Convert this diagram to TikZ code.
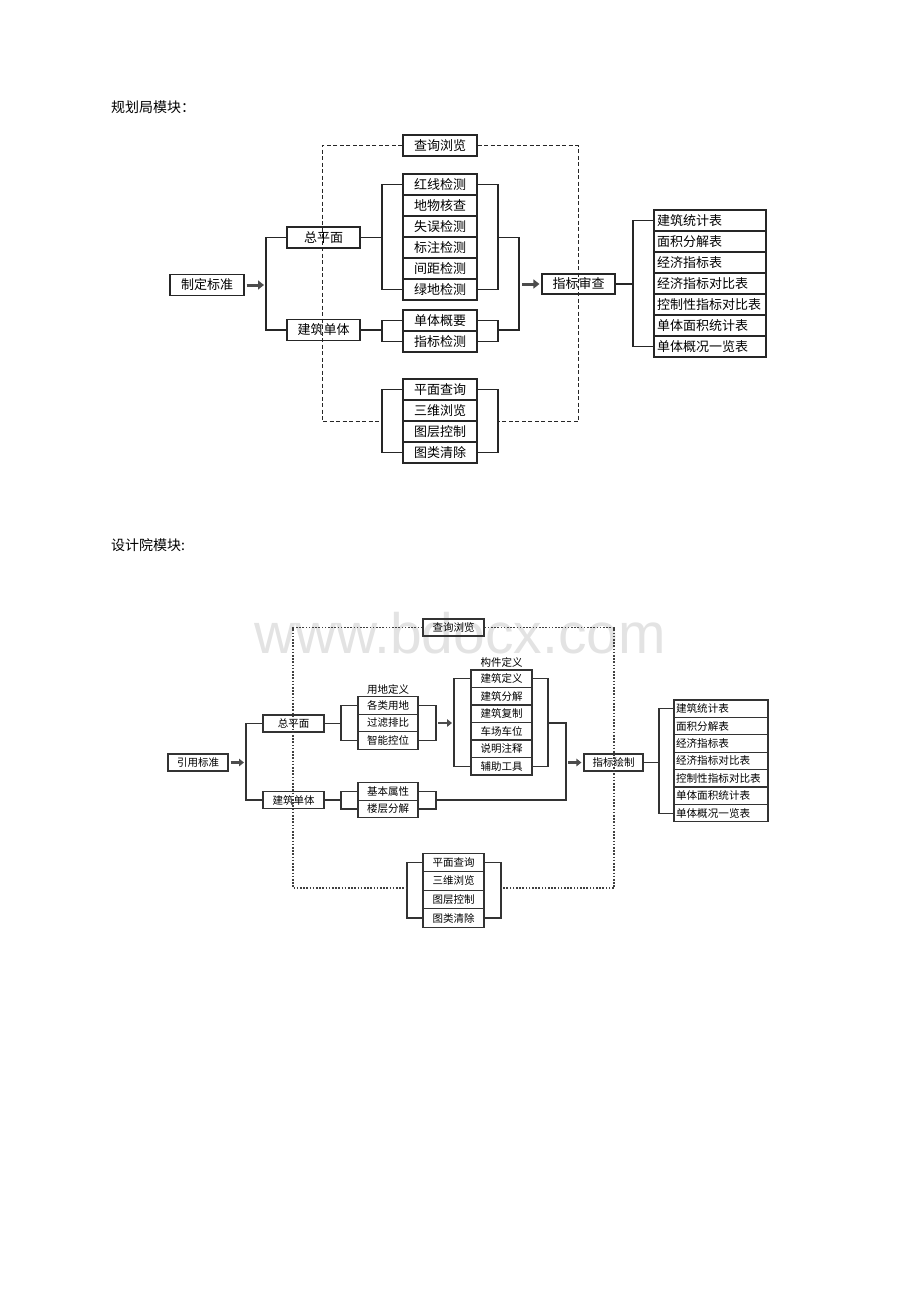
\documentclass[tikz,border=0pt]{standalone}
\usepackage{fontspec}
\setmainfont{Noto Sans CJK SC}
\newfontfamily\wmfont{Liberation Sans}
\usetikzlibrary{arrows.meta,calc}
\begin{document}
\begin{tikzpicture}[x=1pt,y=-1pt,
  tb/.style={draw=black!85,line width=1.1pt,inner sep=0pt,minimum height=21pt,font=\fontsize{13}{13}\selectfont},
  tl/.style={tb,text width=106pt,align=left,inner xsep=3pt},
  sb/.style={draw=black!80,line width=1.2pt,inner sep=0pt,minimum height=17.5pt,font=\fontsize{10.5}{10.5}\selectfont},
  sl/.style={sb,minimum height=17.4pt,text width=90pt,align=left,inner xsep=2pt,font=\fontsize{10.6}{10.6}\selectfont},
  ln/.style={draw=black!85,line width=1.1pt},
  ln2/.style={draw=black!80,line width=1.2pt},
  dsh/.style={draw=black!85,line width=1pt,dash pattern=on 4pt off 2.5pt},
  dot/.style={draw=black!75,line width=1.2pt,dash pattern=on 1.6pt off 1.6pt},
  bigarrow/.style={draw=black!70,line width=3pt,-{Triangle[length=6pt,width=9pt]}},
  smallarrow/.style={draw=black!70,line width=2.4pt,-{Triangle[length=5pt,width=7.5pt]}},
  title/.style={anchor=west,inner sep=0pt,font=\fontsize{14}{14}\selectfont},
  lab/.style={inner sep=0pt,font=\fontsize{10.5}{10.5}\selectfont}
]
\useasboundingbox (0,0) rectangle (920,1302);

% watermark
\node[inner sep=0pt,font=\wmfont\fontsize{57}{57}\selectfont,text=black!11] (wm) at (460,633) {www.bdocx.com};

% ================= top diagram =================
\node[title] (t1) at (111,107) {规划局模块：};

\node[tb,minimum width=74pt] (zd) at (207,285) {制定标准};
\node[tb,minimum width=73pt] (zp1) at (323.5,237.5) {总平面};
\node[tb,minimum width=73pt] (dt1) at (323.5,330) {建筑单体};
\node[tb,minimum width=74pt] (cx1) at (440,145.5) {查询浏览};

\node[tb,minimum width=74pt] (a1) at (440,184.5) {红线检测};
\node[tb,minimum width=74pt] (a2) at (440,205.5) {地物核查};
\node[tb,minimum width=74pt] (a3) at (440,226.5) {失误检测};
\node[tb,minimum width=74pt] (a4) at (440,247.5) {标注检测};
\node[tb,minimum width=74pt] (a5) at (440,268.5) {间距检测};
\node[tb,minimum width=74pt] (a6) at (440,289.5) {绿地检测};

\node[tb,minimum width=74pt] (b1) at (440,320.5) {单体概要};
\node[tb,minimum width=74pt] (b2) at (440,341.5) {指标检测};

\node[tb,minimum width=74pt] (c1) at (440,389.5) {平面查询};
\node[tb,minimum width=74pt] (c2) at (440,410.5) {三维浏览};
\node[tb,minimum width=74pt] (c3) at (440,431.5) {图层控制};
\node[tb,minimum width=74pt] (c4) at (440,452.5) {图类清除};

\node[tb,minimum width=73pt,minimum height=20pt] (zs) at (578.5,284) {指标审查};

\node[tl] (r1) at (710,220.5) {建筑统计表};
\node[tl] (r2) at (710,241.5) {面积分解表};
\node[tl] (r3) at (710,262.5) {经济指标表};
\node[tl] (r4) at (710,283.5) {经济指标对比表};
\node[tl] (r5) at (710,304.5) {控制性指标对比表};
\node[tl] (r6) at (710,325.5) {单体面积统计表};
\node[tl] (r7) at (710,346.5) {单体概况一览表};

\coordinate (vL) at (266,0);
\coordinate (bx1) at (382,0);
\coordinate (bx2) at (498,0);
\coordinate (vR) at (519,0);
\coordinate (bx3) at (633,0);
\coordinate (dL) at (322,0);
\coordinate (dR) at (578,0);

\draw[bigarrow] ([xshift=2pt]zd.east) -- ([xshift=-2pt]zd.east -| vL);
\draw[ln] (zp1.west) -- (zp1.west -| vL) -- (dt1.west -| vL) -- (dt1.west);
\draw[ln] (zp1.east) -- (zp1.east -| bx1);
\draw[ln] (a1.west) -- (a1.west -| bx1) -- (a6.west -| bx1) -- (a6.west);
\draw[ln] (a1.east) -- (a1.east -| bx2) -- (a6.east -| bx2) -- (a6.east);
\draw[ln] (zp1.east -| bx2) -- (zp1.east -| vR) -- (dt1.east -| vR) -- (dt1.east -| bx2);
\draw[ln] (dt1.east) -- (dt1.east -| bx1);
\draw[ln] (b1.west) -- (b1.west -| bx1) -- (b2.west -| bx1) -- (b2.west);
\draw[ln] (b1.east) -- (b1.east -| bx2) -- (b2.east -| bx2) -- (b2.east);
\draw[ln] (c1.west) -- (c1.west -| bx1) -- (c4.west -| bx1) -- (c4.west);
\draw[ln] (c1.east) -- (c1.east -| bx2) -- (c4.east -| bx2) -- (c4.east);
\draw[bigarrow] ([xshift=3pt]zs.west -| vR) -- ([xshift=-2pt]zs.west);
\draw[ln] (zs.east) -- (zs.east -| bx3);
\draw[ln] (r1.west) -- (r1.west -| bx3) -- (r7.west -| bx3) -- (r7.west);

\draw[dsh] (cx1.west) -- (cx1.west -| dL) -- (dL |- c2.south) -- (bx1 |- c2.south);
\draw[dsh] (cx1.east) -- (cx1.east -| dR) -- (dR |- c2.south) -- (bx2 |- c2.south);

% ================= bottom diagram =================
\node[title] (t2) at (111,545) {设计院模块:};

\node[sb,minimum width=60pt,minimum height=17pt] (yy) at (198,762.5) {引用标准};
\node[sb,minimum width=61pt,minimum height=17pt] (zp2) at (293.5,723.5) {总平面};
\node[sb,minimum width=61pt,minimum height=17pt] (dt2) at (293.5,800) {建筑单体};
\node[sb,minimum width=61pt,minimum height=17pt] (cx2) at (453.5,627.5) {查询浏览};

\node[lab] (ydl) at (388,689) {用地定义};
\node[sb,minimum width=60pt] (d1) at (388,705.5) {各类用地};
\node[sb,minimum width=60pt] (d2) at (388,723) {过滤排比};
\node[sb,minimum width=60pt] (d3) at (388,740.5) {智能控位};

\node[lab] (gjl) at (501.5,662) {构件定义};
\node[sb,minimum width=61pt] (e1) at (501.5,678.75) {建筑定义};
\node[sb,minimum width=61pt] (e2) at (501.5,696.25) {建筑分解};
\node[sb,minimum width=61pt] (e3) at (501.5,713.75) {建筑复制};
\node[sb,minimum width=61pt] (e4) at (501.5,731.25) {车场车位};
\node[sb,minimum width=61pt] (e5) at (501.5,748.75) {说明注释};
\node[sb,minimum width=61pt] (e6) at (501.5,766.25) {辅助工具};

\node[sb,minimum width=60pt] (f1) at (388,791.5) {基本属性};
\node[sb,minimum width=60pt] (f2) at (388,809) {楼层分解};

\node[sb,minimum width=59pt,minimum height=17pt] (zh) at (613.5,762.5) {指标绘制};

\node[sl] (s1) at (721,708.7) {建筑统计表};
\node[sl] (s2) at (721,726.1) {面积分解表};
\node[sl] (s3) at (721,743.5) {经济指标表};
\node[sl] (s4) at (721,760.9) {经济指标对比表};
\node[sl] (s5) at (721,778.3) {控制性指标对比表};
\node[sl] (s6) at (721,795.7) {单体面积统计表};
\node[sl] (s7) at (721,813.1) {单体概况一览表};

\node[sb,minimum width=61pt,minimum height=18.5pt] (g1) at (453.5,862.5) {平面查询};
\node[sb,minimum width=61pt,minimum height=18.5pt] (g2) at (453.5,881) {三维浏览};
\node[sb,minimum width=61pt,minimum height=18.5pt] (g3) at (453.5,899.5) {图层控制};
\node[sb,minimum width=61pt,minimum height=18.5pt] (g4) at (453.5,918) {图类清除};

\coordinate (vL2) at (246,0);
\coordinate (bx4) at (341,0);
\coordinate (bx5) at (436,0);
\coordinate (bx6) at (454,0);
\coordinate (bx7) at (548,0);
\coordinate (vR2) at (566,0);
\coordinate (bx8) at (659,0);
\coordinate (gx1) at (407,0);
\coordinate (gx2) at (501,0);
\coordinate (dL2) at (293,0);
\coordinate (dR2) at (614,0);
\coordinate (dB2) at (0,888);

\draw[smallarrow] ([xshift=2pt]yy.east) -- ([xshift=-2pt]yy.east -| vL2);
\draw[ln2] (zp2.west) -- (zp2.west -| vL2) -- (dt2.west -| vL2) -- (dt2.west);
\draw[ln2] (zp2.east) -- (zp2.east -| bx4);
\draw[ln2] (d1.west) -- (d1.west -| bx4) -- (d3.west -| bx4) -- (d3.west);
\draw[ln2] (d1.east) -- (d1.east -| bx5) -- (d3.east -| bx5) -- (d3.east);
\draw[smallarrow] ([xshift=2pt]d2.east -| bx5) -- ([xshift=-2pt]d2.east -| bx6);
\draw[ln2] (e1.west) -- (e1.west -| bx6) -- (e6.west -| bx6) -- (e6.west);
\draw[ln2] (e1.east) -- (e1.east -| bx7) -- (e6.east -| bx7) -- (e6.east);
\draw[ln2] (d2.east -| bx7) -- (d2.east -| vR2) -- (dt2.east -| vR2) -- (dt2.east -| bx5);
\draw[ln2] (dt2.east) -- (dt2.east -| bx4);
\draw[ln2] (f1.west) -- (f1.west -| bx4) -- (f2.west -| bx4) -- (f2.west);
\draw[ln2] (f1.east) -- (f1.east -| bx5) -- (f2.east -| bx5) -- (f2.east);
\draw[smallarrow] ([xshift=2pt]zh.west -| vR2) -- ([xshift=-2pt]zh.west);
\draw[ln2] (zh.east) -- (zh.east -| bx8);
\draw[ln2] (s1.west) -- (s1.west -| bx8) -- (s7.west -| bx8) -- (s7.west);
\draw[ln2] (g1.west) -- (g1.west -| gx1) -- (g4.west -| gx1) -- (g4.west);
\draw[ln2] (g1.east) -- (g1.east -| gx2) -- (g4.east -| gx2) -- (g4.east);

\draw[dot] (cx2.west) -- (cx2.west -| dL2) -- (dL2 |- dB2) -- (gx1 |- dB2);
\draw[dot] (cx2.east) -- (cx2.east -| dR2) -- (dR2 |- dB2) -- (gx2 |- dB2);

\end{tikzpicture}
\end{document}
